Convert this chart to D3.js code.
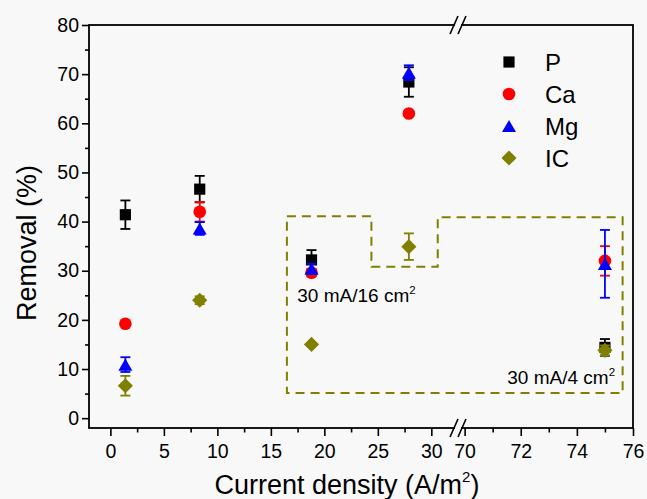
<!DOCTYPE html>
<html><head><meta charset="utf-8">
<script src="https://cdn.jsdelivr.net/npm/d3@7"></script>
<style>
html,body{margin:0;padding:0;background:#f8f8f8;}
svg{display:block;}
text{font-family:"Liberation Sans",Arial,sans-serif;fill:#000;}
</style></head>
<body><svg id="c" width="647" height="499"></svg>
<script>
// ---- data ----
const series = ["P", "Ca", "Mg", "IC"];
const colors = ["#000000", "#ff0000", "#0000ff", "#808000"];
const currentDensity = [1.4, 8.35, 18.8, 27.9, 75.0];
const removalP  = [41.4, 46.6, 32.2, 68.4, 14.4];
const errP      = [2.9, 2.7, 2.0, 3.0, 1.7];
const removalCa = [19.2, 42.0, 29.6, 62.0, 32.0];
const errCa     = [0, 2.0, 0.7, 0, 3.0];
const removalMg = [10.9, 38.6, 30.4, 70.3, 31.4];
const errMg     = [1.5, 1.3, 1.0, 1.5, 6.9];
const removalIC = [6.6, 24.0, 15.0, 34.9, 13.8];
const errIC     = [2.0, 0.8, 0, 2.7, 1.0];
const xTicksLeft = [0, 5, 10, 15, 20, 25, 30];
const xMinorLeft = [2.5, 7.5, 12.5, 17.5, 22.5, 27.5];
const xTicksRight = [70, 72, 74, 76];
const xMinorRight = [71, 73, 75];
const yTicks = [0, 10, 20, 30, 40, 50, 60, 70, 80];
const yMinor = [5, 15, 25, 35, 45, 55, 65, 75];
// dashed region outline (x in A/m2, y in %)
const regionX = [16.5, 24.4, 24.4, 30.6, 30.6, 75.63, 75.63, 16.5, 16.5];
const regionY = [41.1, 41.1, 30.8, 30.8, 40.9, 40.9, 5.1, 5.1, 41.1];
const annotations = [{t:"30 mA/16 cm", x:17.47, y:23.7}, {t:"30 mA/4 cm", x:71.52, y:6.95}];

// ---- layout ----
const pL = 89, pR = 633, pT = 25, pB = 428, breakPx = 458;
const xL = d3.scaleLinear().domain([-2, 32.4]).range([pL, breakPx - 1]);
const xR = d3.scaleLinear().domain([69.8, 76]).range([breakPx + 1, pR]);
const X = v => v > 50 ? xR(v) : xL(v);
const y = d3.scaleLinear().domain([-2, 80]).range([pB, pT]);

const svg = d3.select("#c");
const bg = "#f8f8f8";

// axes
function styleAxis(g){ g.selectAll(".domain").remove(); g.selectAll("line").attr("stroke","#000").attr("stroke-width",1.6); g.selectAll("text").style("font-size","19.5px").style("font-family","Liberation Sans, Arial, sans-serif"); }
const fmt = d3.format("d");
svg.append("g").attr("transform",`translate(0,${pB})`).call(d3.axisBottom(xL).tickValues(xTicksLeft).tickFormat(fmt).tickSize(8).tickPadding(8)).call(styleAxis);
svg.append("g").attr("transform",`translate(0,${pB})`).call(d3.axisBottom(xL).tickValues(xMinorLeft).tickSize(4.5).tickFormat("")).call(styleAxis);
svg.append("g").attr("transform",`translate(0,${pB})`).call(d3.axisBottom(xR).tickValues(xTicksRight).tickFormat(fmt).tickSize(8).tickPadding(8)).call(styleAxis);
svg.append("g").attr("transform",`translate(0,${pB})`).call(d3.axisBottom(xR).tickValues(xMinorRight).tickSize(4.5).tickFormat("")).call(styleAxis);
svg.append("g").attr("transform",`translate(${pL},0)`).call(d3.axisLeft(y).tickValues(yTicks).tickFormat(fmt).tickSize(7).tickPadding(3)).call(styleAxis);
svg.append("g").attr("transform",`translate(${pL},0)`).call(d3.axisLeft(y).tickValues(yMinor).tickSize(4).tickFormat("")).call(styleAxis);

// frame
svg.append("rect").attr("x",pL).attr("y",pT).attr("width",pR-pL).attr("height",pB-pT)
  .attr("fill","none").attr("stroke","#000").attr("stroke-width",1.8);

// break marks
[pT, pB].forEach(yy => {
  svg.append("rect").attr("x",breakPx-3).attr("y",yy-3).attr("width",6).attr("height",6).attr("fill",bg);
  [-4, 4].forEach(dx => {
    svg.append("line").attr("x1",breakPx+dx-4).attr("y1",yy+9).attr("x2",breakPx+dx+4).attr("y2",yy-9)
      .attr("stroke","#000").attr("stroke-width",1.6);
  });
});

// dashed region
svg.append("path")
  .attr("d", d3.line()(regionX.map((v,i)=>[X(v), y(regionY[i])])))
  .attr("fill","none").attr("stroke","#808000").attr("stroke-width",2).attr("stroke-dasharray","9,6");

// annotations
annotations.forEach(a => {
  const t = svg.append("text").attr("x",X(a.x)).attr("y",y(a.y)).style("font-size","19px").text(a.t);
  t.append("tspan").attr("dy",-8).style("font-size","11.5px").text("2");
});

// markers
const symSquare = d3.symbol().type(d3.symbolSquare).size(125)();
const symCircle = d3.symbol().type(d3.symbolCircle).size(125)();
const symTri = d3.symbol().type(d3.symbolTriangle).size(85)();
const symDiamond = d3.symbol().type(d3.symbolSquare).size(115)();
const shapes = [symSquare, symCircle, symTri, symDiamond];
const rot = [0, 0, 0, 45];
const vals = [removalP, removalCa, removalMg, removalIC];
const errs = [errP, errCa, errMg, errIC];

series.forEach((s, si) => {
  const g = svg.append("g");
  currentDensity.forEach((cd, i) => {
    const v = vals[si][i], e = errs[si][i], px = X(cd);
    if (e > 0) {
      g.append("line").attr("x1",px).attr("x2",px).attr("y1",y(v+e)).attr("y2",y(v-e)).attr("stroke",colors[si]).attr("stroke-width",1.8);
      [v+e, v-e].forEach(w => g.append("line").attr("x1",px-5).attr("x2",px+5).attr("y1",y(w)).attr("y2",y(w)).attr("stroke",colors[si]).attr("stroke-width",1.8));
    }
    g.append("path").attr("d",shapes[si]).attr("fill",colors[si])
      .attr("transform",`translate(${px},${y(v) + (si===2?2:0)}) rotate(${rot[si]})`);
  });
});

// legend
series.forEach((s, si) => {
  const ly = 62 + si * 32;
  svg.append("path").attr("d",shapes[si]).attr("fill",colors[si]).attr("transform",`translate(509,${ly + (si===2?2:0)}) rotate(${rot[si]})`);
  svg.append("text").attr("x",545).attr("y",ly+9).style("font-size","24px").text(s);
});

// axis titles
const xt = svg.append("text").attr("x",347).attr("y",494).attr("text-anchor","middle").style("font-size","27px").text("Current density (A/m");
xt.append("tspan").attr("dy",-12).style("font-size","15px").text("2");
xt.append("tspan").attr("dy",12).text(")");
svg.append("text").attr("transform","translate(36,243) rotate(-90)").attr("text-anchor","middle").style("font-size","27px").text("Removal (%)");
</script></body></html>
